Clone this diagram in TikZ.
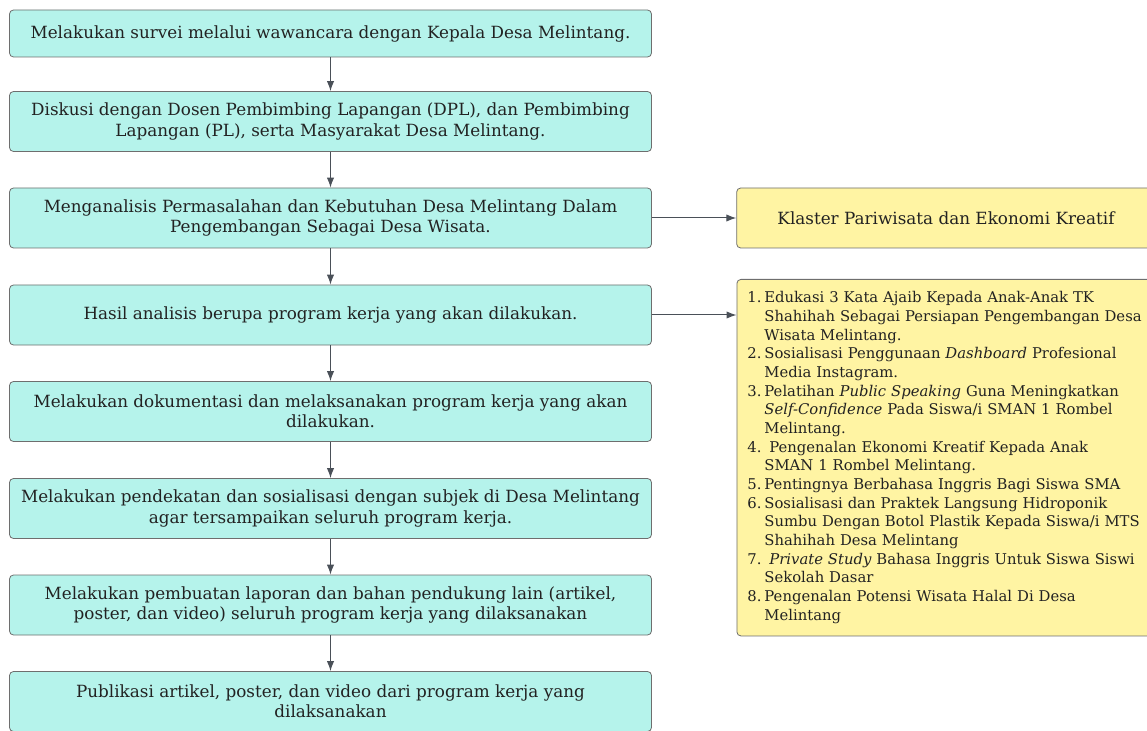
\documentclass[tikz,border=0pt]{standalone}
\usepackage{fontspec}
\setmainfont{DejaVu Serif}
\usepackage{tikz}
\usetikzlibrary{arrows.meta,positioning}
\definecolor{boxteal}{HTML}{B5F3EB}
\definecolor{boxyellow}{HTML}{FFF4A3}
\definecolor{edgegray}{HTML}{6E6E6E}
\definecolor{linegray}{HTML}{4A5058}
\definecolor{txt}{HTML}{222222}
\newcommand{\num}[1]{\makebox[12.75pt][l]{#1}}
\newcommand{\ind}{\hspace*{12.75pt}}
\tikzset{
 b/.style
  = {rectangle, draw=edgegray, fill=boxteal, line width=0.6pt, rounded corners=3pt,
     minimum width=481.5pt, minimum height=45pt, inner sep=0pt, align=center,
     text=txt, font=\fontsize{12.6}{15.2}\selectfont},
 kb/.style
  = {b, fill=boxyellow, minimum width=314pt},
 l/.style
  = {draw=linegray, line width=0.75pt, -{Latex[length=7.5pt,width=5.5pt]}},
}
\begin{document}
\begin{tikzpicture}[x=0.75pt, y=-0.75pt]
\useasboundingbox (0,0) rectangle (1147,731);

% Steps
\node[b, minimum height=35.25pt] (s1) at (330.5,33.5) {Melakukan survei melalui wawancara dengan Kepala Desa Melintang.};
\node[b] (s2) at (330.5,121.5) {Diskusi dengan Dosen Pembimbing Lapangan (DPL), dan Pembimbing\\Lapangan (PL), serta Masyarakat Desa Melintang.};
\node[b] (s3) at (330.5,218) {Menganalisis Permasalahan dan Kebutuhan Desa Melintang Dalam\\Pengembangan Sebagai Desa Wisata.};
\node[b] (s4) at (330.5,315) {Hasil analisis berupa program kerja yang akan dilakukan.};
\node[b] (s5) at (330.5,411.5) {Melakukan dokumentasi dan melaksanakan program kerja yang akan\\dilakukan.};
\node[b] (s6) at (330.5,508.5) {Melakukan pendekatan dan sosialisasi dengan subjek di Desa Melintang\\agar tersampaikan seluruh program kerja.};
\node[b] (s7) at (330.5,605) {Melakukan pembuatan laporan dan bahan pendukung lain (artikel,\\poster, dan video) seluruh program kerja yang dilaksanakan};
\node[b] (s8) at (330.5,701.5) {Publikasi artikel, poster, dan video dari program kerja yang\\dilaksanakan};

% Cluster
\node[kb] (k1) at (946,218) {Klaster Pariwisata dan Ekonomi Kreatif};

% Work programs
\node[kb, anchor=north west, minimum height=267.4pt, inner xsep=7.9pt, text width=306pt,
  align=left, font=\fontsize{11.1}{14}\selectfont] (k2) at (736.5,279) {%
\num{1.}Edukasi 3 Kata Ajaib Kepada Anak-Anak TK\\
\ind Shahihah Sebagai Persiapan Pengembangan Desa\\
\ind Wisata Melintang.\\
\num{2.}Sosialisasi Penggunaan \textit{Dashboard} Profesional\\
\ind Media Instagram.\\
\num{3.}Pelatihan \textit{Public Speaking} Guna Meningkatkan\\
\ind\textit{Self-Confidence} Pada Siswa/i SMAN 1 Rombel\\
\ind Melintang.\\
\num{4.}\ Pengenalan Ekonomi Kreatif Kepada Anak\\
\ind SMAN 1 Rombel Melintang.\\
\num{5.}Pentingnya Berbahasa Inggris Bagi Siswa SMA\\
\num{6.}Sosialisasi dan Praktek Langsung Hidroponik\\
\ind Sumbu Dengan Botol Plastik Kepada Siswa/i MTS\\
\ind Shahihah Desa Melintang\\
\num{7.}\ \textit{Private Study} Bahasa Inggris Untuk Siswa Siswi\\
\ind Sekolah Dasar\\
\num{8.}Pengenalan Potensi Wisata Halal Di Desa\\
\ind Melintang};

% Arrows
\draw[l] (s1) -- (s2);
\draw[l] (s2) -- (s3);
\draw[l] (s3) -- (s4);
\draw[l] (s4) -- (s5);
\draw[l] (s5) -- (s6);
\draw[l] (s6) -- (s7);
\draw[l] (s7) -- (s8);
\draw[l] (s3) -- (k1);
\draw[l] (s4.east) -- (s4 -| k2.west);

\end{tikzpicture}
\end{document}
